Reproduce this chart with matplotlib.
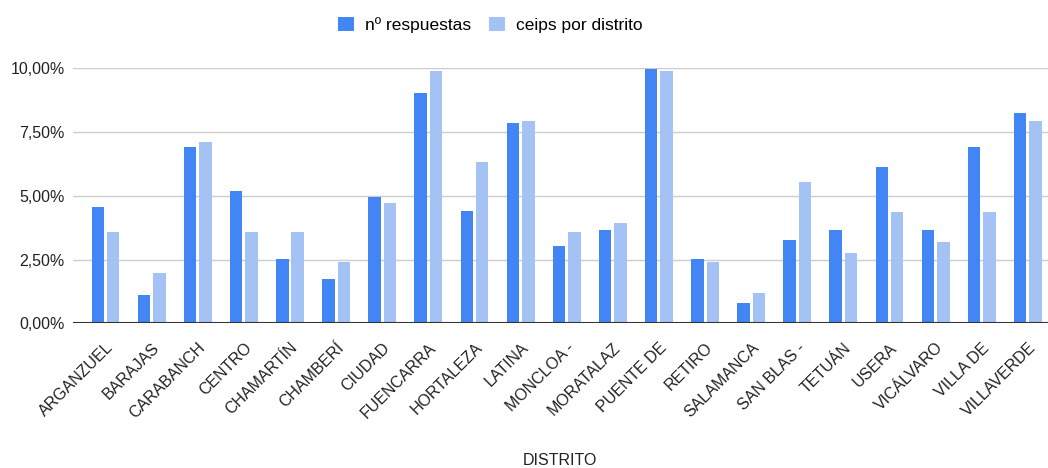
import matplotlib
matplotlib.use("Agg")
import matplotlib.pyplot as plt
from matplotlib.ticker import FuncFormatter
import numpy as np

distritos = ["ARGANZUEL", "BARAJAS", "CARABANCH", "CENTRO", "CHAMARTÍN", "CHAMBERÍ",
             "CIUDAD", "FUENCARRA", "HORTALEZA", "LATINA", "MONCLOA -", "MORATALAZ",
             "PUENTE DE", "RETIRO", "SALAMANCA", "SAN BLAS -", "TETUÁN", "USERA",
             "VICÁLVARO", "VILLA DE", "VILLAVERDE"]
respuestas = [4.57, 1.12, 6.91, 5.19, 2.51, 1.73, 4.95, 9.02, 4.42, 7.87, 3.03,
              3.65, 9.96, 2.51, 0.78, 3.28, 3.65, 6.14, 3.65, 6.91, 8.24]
ceips = [3.57, 1.96, 7.10, 3.57, 3.57, 2.39, 4.71, 9.89, 6.31, 7.93, 3.57,
         3.93, 9.89, 2.39, 1.19, 5.54, 2.75, 4.35, 3.18, 4.35, 7.93]
yticks = [0, 2.5, 5, 7.5, 10]

plt.rcParams['font.family'] = ['Liberation Sans', 'DejaVu Sans']

fig = plt.figure(figsize=(10.48, 4.68), dpi=100)
ax = fig.add_axes([0.0697, 0.309, 0.93, 0.545])

x = np.arange(len(distritos))
w = 0.27
ax.bar(x - 0.167, respuestas, w, color='#4285F4', label='nº respuestas', zorder=3)
ax.bar(x + 0.167, ceips, w, color='#A4C2F4', label='ceips por distrito', zorder=3)

ax.set_xlim(-0.705, 20.43)
ax.set_ylim(0, 10)
ax.set_yticks(yticks)
ax.yaxis.set_major_formatter(FuncFormatter(lambda v, p: ("%.2f%%" % v).replace(".", ",")))
for t in yticks[1:]:
    ax.axhline(t, color='#cccccc', linewidth=1, zorder=1)
ax.axhline(0, color='#333333', linewidth=1.5, zorder=4)
for s in ax.spines.values():
    s.set_visible(False)
ax.tick_params(axis='both', length=0, labelsize=11.5, colors='#222222')
ax.tick_params(axis='y', pad=6)
ax.tick_params(axis='x', pad=12)
ax.set_xticks(x)
ax.set_xticklabels(distritos, rotation=45, ha='right', rotation_mode='anchor')
ax.set_xlabel("DISTRITO", fontsize=11.5, color='#222222', labelpad=23)

ax.legend(loc='center', bbox_to_anchor=(0.428, 1.17), ncol=2, frameon=False,
          fontsize=12.5, handlelength=0.92, handleheight=0.92, columnspacing=1.0,
          handletextpad=0.63)

plt.savefig("out.png", dpi=100)
